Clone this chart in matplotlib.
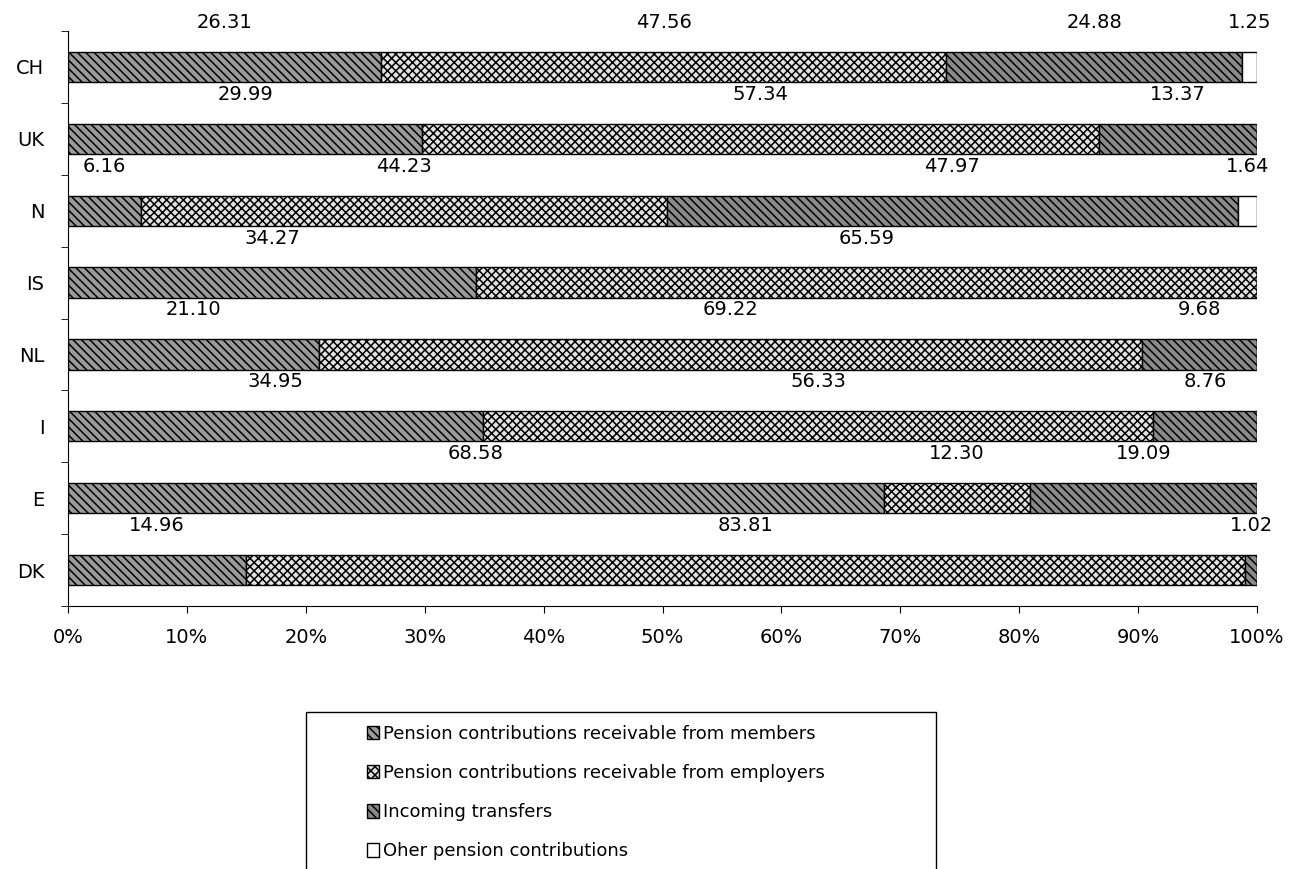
import numpy as np
import matplotlib
matplotlib.use("Agg")
import matplotlib.pyplot as plt
from matplotlib.patches import Rectangle
from matplotlib.ticker import FuncFormatter, FixedLocator

plt.rcParams['font.family'] = ['DejaVu Sans']
plt.rcParams['hatch.linewidth'] = 1.1

# countries, bottom to top
countries = ['DK', 'E', 'I', 'NL', 'IS', 'N', 'UK', 'CH']

# contribution shares (%) per country
members = [14.96, 68.58, 34.95, 21.10, 34.27, 6.16, 29.99, 26.31]
employers = [83.81, 12.30, 56.33, 69.22, 65.59, 44.23, 57.34, 47.56]
transfers = [1.02, 19.09, 8.76, 9.68, 0.0, 47.97, 13.37, 24.88]
other = [0.0, 0.0, 0.0, 0.0, 0.0, 1.64, 0.0, 1.25]

series_names = ['Pension contributions receivable from members',
                'Pension contributions receivable from employers',
                'Incoming transfers',
                'Oher pension contributions']

raw = np.array([members, employers, transfers, other])
shares = raw / raw.sum(axis=0) * 100  # 100% stacked

styles = [
    dict(facecolor='#9a9a9a', hatch='\\\\\\\\'),
    dict(facecolor='#e2e2e2', hatch='xxxx'),
    dict(facecolor='#8a8a8a', hatch='\\\\\\\\'),
    dict(facecolor='white', hatch=None),
]

fig = plt.figure(figsize=(12.92, 8.69), dpi=100)
ax = fig.add_axes([0.0526, 0.3026, 0.9204, 0.6617])

y = np.arange(len(countries))
left = np.zeros(len(countries))
handles = []
for i in range(4):
    bars = ax.barh(y, shares[i], left=left, height=0.42, edgecolor='black',
                   linewidth=1.0, label=series_names[i], **styles[i])
    handles.append(bars)
    for j in range(len(countries)):
        if raw[i, j] > 0:
            ax.text(left[j] + shares[i, j] / 2, y[j] + 0.62, f'{raw[i, j]:.2f}',
                    ha='center', va='center', fontsize=14)
    left += shares[i]

ax.set_xlim(0, 100)
ax.set_ylim(-0.5, len(countries) - 0.5)
ax.set_xticks(np.arange(0, 101, 10))
ax.xaxis.set_major_formatter(FuncFormatter(lambda v, p: f'{v:.0f}%'))
ax.tick_params(axis='x', direction='out', length=5, pad=11, labelsize=14)

ax.set_yticks(y)
ax.set_yticklabels(countries)
ax.yaxis.set_minor_locator(FixedLocator(np.arange(-0.5, len(countries), 1)))
ax.tick_params(axis='y', which='major', length=0, pad=17, labelsize=14)
ax.tick_params(axis='y', which='minor', direction='out', length=5)

for s in ['top', 'right']:
    ax.spines[s].set_visible(False)

# legend with its own frame running off the bottom edge
fig.add_artist(Rectangle((306 / 1292, -0.05), (936 - 306) / 1292, 0.05 + 1 - 712 / 869,
                         transform=fig.transFigure, fill=False,
                         edgecolor='black', linewidth=1.0))
fig.legend(handles=handles, labels=series_names, loc='upper left',
           bbox_to_anchor=(358 / 1292, 1 - 716 / 869), frameon=False,
           fontsize=13, handlelength=0.65, handleheight=0.75,
           handletextpad=0.25, labelspacing=1.17, borderpad=0)

fig.savefig('out.png', dpi=100)
